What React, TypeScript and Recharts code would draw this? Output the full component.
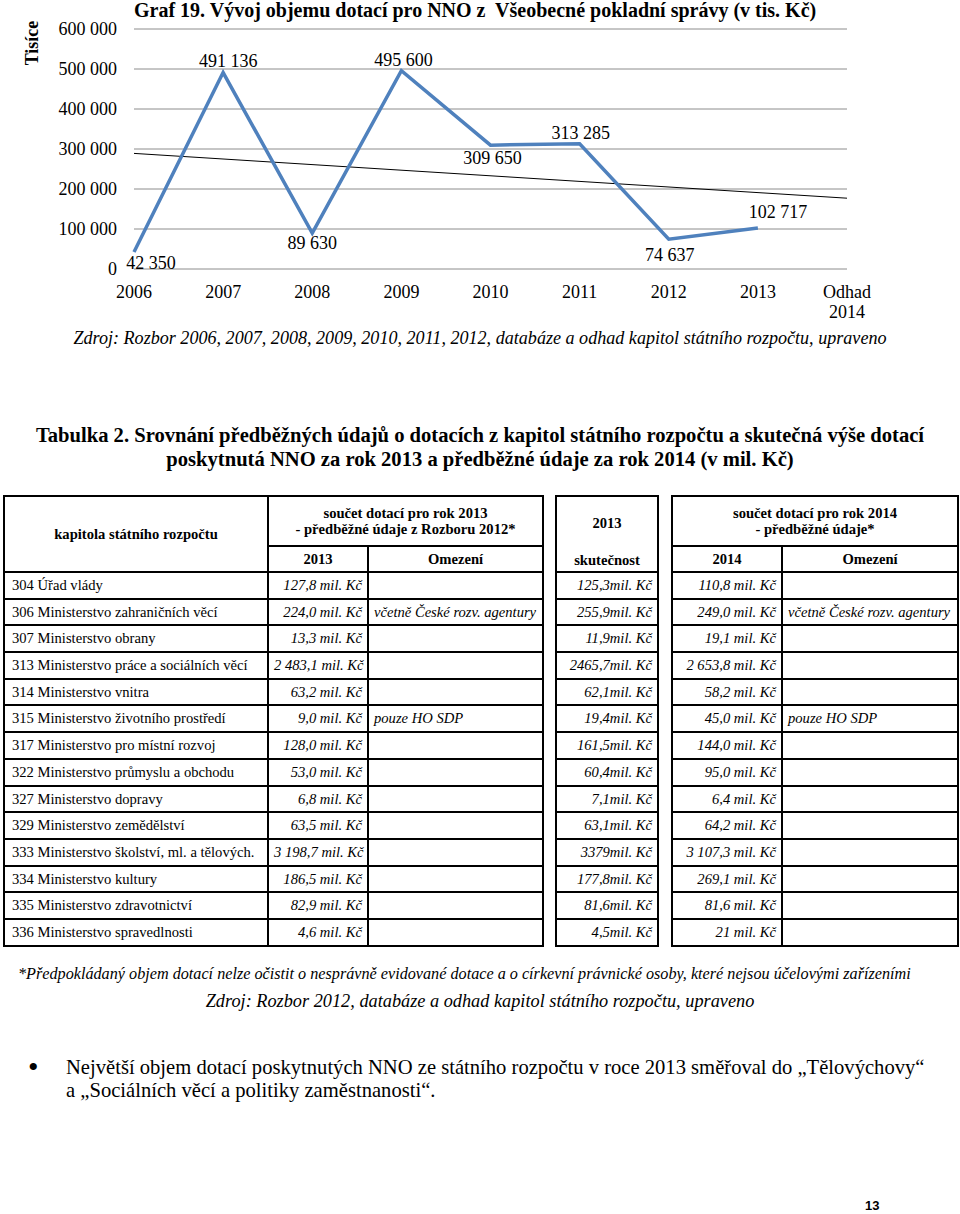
import React from 'react';
import { LineChart, Line, XAxis, YAxis, CartesianGrid, ReferenceLine, LabelList } from 'recharts';

// ---------- chart data ----------
const years = ['2006', '2007', '2008', '2009', '2010', '2011', '2012', '2013', 'Odhad 2014'];
const subsidies: (number | null)[] = [42350, 491136, 89630, 495600, 309650, 313285, 74637, 102717, null];
const yTicks = [0, 100000, 200000, 300000, 400000, 500000, 600000];
// linear trend line (value at 2006 and at "Odhad 2014")
const trendStart = 289000;
const trendEnd = 177000;

// ---------- table data ----------
const chapters = [
  '304 Úřad vlády',
  '306 Ministerstvo zahraničních věcí',
  '307 Ministerstvo obrany',
  '313 Ministerstvo práce a sociálních věcí',
  '314 Ministerstvo vnitra',
  '315 Ministerstvo životního prostředí',
  '317 Ministerstvo pro místní rozvoj',
  '322 Ministerstvo průmyslu a obchodu',
  '327 Ministerstvo dopravy',
  '329 Ministerstvo zemědělství',
  '333 Ministerstvo školství, ml. a tělových.',
  '334 Ministerstvo kultury',
  '335 Ministerstvo zdravotnictví',
  '336 Ministerstvo spravedlnosti',
];
const planned2013 = ['127,8 mil. Kč', '224,0 mil. Kč', '13,3 mil. Kč', '2 483,1 mil. Kč', '63,2 mil. Kč', '9,0 mil. Kč', '128,0 mil. Kč', '53,0 mil. Kč', '6,8 mil. Kč', '63,5 mil. Kč', '3 198,7 mil. Kč', '186,5 mil. Kč', '82,9 mil. Kč', '4,6 mil. Kč'];
const limits2013 = ['', 'včetně České rozv. agentury', '', '', '', 'pouze HO SDP', '', '', '', '', '', '', '', ''];
const actual2013 = ['125,3mil. Kč', '255,9mil. Kč', '11,9mil. Kč', '2465,7mil. Kč', '62,1mil. Kč', '19,4mil. Kč', '161,5mil. Kč', '60,4mil. Kč', '7,1mil. Kč', '63,1mil. Kč', '3379mil. Kč', '177,8mil. Kč', '81,6mil. Kč', '4,5mil. Kč'];
const planned2014 = ['110,8 mil. Kč', '249,0 mil. Kč', '19,1 mil. Kč', '2 653,8 mil. Kč', '58,2 mil. Kč', '45,0 mil. Kč', '144,0 mil. Kč', '95,0 mil. Kč', '6,4 mil. Kč', '64,2 mil. Kč', '3 107,3 mil. Kč', '269,1 mil. Kč', '81,6 mil. Kč', '21 mil. Kč'];
const limits2014 = ['', 'včetně České rozv. agentury', '', '', '', 'pouze HO SDP', '', '', '', '', '', '', '', ''];

// label offsets (style only)
const labelOffsets: [number, number][] = [
  [17, 11], [5, -12], [0, 10], [2, -11], [2, 13], [1, -11], [1, 16], [20, -16],
];

const chartData = years.map((year, i) => ({ year, value: subsidies[i] }));

const SERIF = '"Liberation Serif", "Times New Roman", serif';

const fmt = (n: number) => String(n).replace(/\B(?=(\d{3})+(?!\d))/g, ' ');

const renderLabel = (props: any) => {
  const { x, y, value, index } = props;
  if (value == null || x == null || y == null) return null;
  const [dx, dy] = labelOffsets[index] || [0, 0];
  return (
    <text x={x + dx} y={y + dy} textAnchor="middle" dominantBaseline="central" fontSize={18} fontFamily={SERIF} fill="#000">
      {fmt(value)}
    </text>
  );
};

const XTick = (props: any) => {
  const { x, y, payload } = props;
  const lines = String(payload.value).split(' ');
  return (
    <text x={x} y={y} textAnchor="middle" fontSize={18} fontFamily={SERIF} fill="#000">
      {lines.map((l, i) => (
        <tspan key={i} x={x} dy={i === 0 ? '0.71em' : '1.1em'}>{l}</tspan>
      ))}
    </text>
  );
};

const abs = (left: number, top: number, extra: React.CSSProperties = {}): React.CSSProperties => ({
  position: 'absolute', left, top, lineHeight: 1, whiteSpace: 'nowrap', fontFamily: SERIF, color: '#000', ...extra,
});

const B = '2px solid #000';
const cell: React.CSSProperties = { border: B, padding: '0 5px', fontSize: 14.6, fontFamily: SERIF, overflow: 'hidden', whiteSpace: 'nowrap', lineHeight: 1 };
const headCell: React.CSSProperties = { ...cell, fontWeight: 'bold', textAlign: 'center' };
const numCell: React.CSSProperties = { ...cell, fontStyle: 'italic', textAlign: 'right' };
const noteCell: React.CSSProperties = { ...cell, fontStyle: 'italic', textAlign: 'left' };
const ROW_H = 26.7;

const tableStyle = (left: number, width: number): React.CSSProperties => ({
  position: 'absolute', left, top: 495, width, borderCollapse: 'collapse', tableLayout: 'fixed',
});

export default function App() {
  return (
    <div style={{ position: 'absolute', left: 0, top: 0, width: 960, height: 1214, background: '#fff', overflow: 'hidden' }}>
      <div style={abs(134, 0, { fontSize: 20, fontWeight: 'bold' })}>
        Graf 19. Vývoj objemu dotací pro NNO z&nbsp; Všeobecné pokladní správy (v tis. Kč)
      </div>
      <div style={{ position: 'absolute', left: 0, top: 0 }}>
        <LineChart width={960} height={330} data={chartData} margin={{ top: 29, right: 113, left: 54, bottom: 31 }}>
          <CartesianGrid vertical={false} stroke="#8c8c8c" strokeWidth={1} />
          <XAxis dataKey="year" axisLine={false} tickLine={false} interval={0} tickMargin={10} tick={<XTick />} />
          <YAxis
            width={80}
            domain={[0, 600000]}
            ticks={yTicks}
            axisLine={false}
            tickLine={false}
            tickMargin={11}
            tickFormatter={(v: number) => fmt(v)}
            tick={{ fontSize: 18, fill: '#000', fontFamily: SERIF }}
            label={{
              content: () => (
                <text transform="translate(38,43) rotate(-90)" textAnchor="middle" fontSize={18} fontWeight="bold" fontFamily={SERIF} fill="#000">
                  Tisíce
                </text>
              ),
            }}
          />
          <ReferenceLine
            segment={[{ x: years[0], y: trendStart }, { x: years[years.length - 1], y: trendEnd }]}
            stroke="#000"
            strokeWidth={1}
          />
          <Line type="linear" dataKey="value" stroke="#4F81BD" strokeWidth={3.5} dot={false} isAnimationActive={false}>
            <LabelList dataKey="value" content={renderLabel} />
          </Line>
        </LineChart>
      </div>
      <div style={abs(0, 329, { width: 960, textAlign: 'center', fontSize: 18.1, fontStyle: 'italic' })}>
        Zdroj: Rozbor 2006, 2007, 2008, 2009, 2010, 2011, 2012, databáze a odhad kapitol státního rozpočtu, upraveno
      </div>

      <div style={abs(0, 423, { width: 960, textAlign: 'center', fontSize: 20.6, fontWeight: 'bold', lineHeight: '24px' })}>
        Tabulka 2. Srovnání předběžných údajů o dotacích z kapitol státního rozpočtu a skutečná výše dotací
        <br />
        poskytnutá NNO za rok 2013 a předběžné údaje za rok 2014 (v mil. Kč)
      </div>

      {/* table A */}
      <table style={tableStyle(3, 539)}>
        <colgroup>
          <col style={{ width: 264 }} />
          <col style={{ width: 100 }} />
          <col style={{ width: 175 }} />
        </colgroup>
        <tbody>
          <tr style={{ height: 50 }}>
            <td rowSpan={2} style={headCell}>kapitola státního rozpočtu</td>
            <td colSpan={2} style={{ ...headCell, lineHeight: '16px' }}>
              součet dotací pro rok 2013<br />- předběžné údaje z Rozboru 2012*
            </td>
          </tr>
          <tr style={{ height: 26 }}>
            <td style={headCell}>2013</td>
            <td style={headCell}>Omezení</td>
          </tr>
          {chapters.map((c, i) => (
            <tr key={c} style={{ height: ROW_H }}>
              <td style={{ ...cell, paddingLeft: 7 }}>{c}</td>
              <td style={numCell}>{planned2013[i]}</td>
              <td style={noteCell}>{limits2013[i]}</td>
            </tr>
          ))}
        </tbody>
      </table>

      {/* table B */}
      <table style={tableStyle(555, 102)}>
        <colgroup>
          <col style={{ width: 102 }} />
        </colgroup>
        <tbody>
          <tr style={{ height: 76 }}>
            <td style={{ ...headCell, position: 'relative' }}>
              <div style={{ position: 'absolute', left: 0, right: 0, top: 19 }}>2013</div>
              <div style={{ position: 'absolute', left: 0, right: 0, top: 56 }}>skutečnost</div>
            </td>
          </tr>
          {actual2013.map((v, i) => (
            <tr key={i} style={{ height: ROW_H }}>
              <td style={numCell}>{v}</td>
            </tr>
          ))}
        </tbody>
      </table>

      {/* table C */}
      <table style={tableStyle(671, 286)}>
        <colgroup>
          <col style={{ width: 110 }} />
          <col style={{ width: 176 }} />
        </colgroup>
        <tbody>
          <tr style={{ height: 50 }}>
            <td colSpan={2} style={{ ...headCell, lineHeight: '16px' }}>
              součet dotací pro rok 2014<br />- předběžné údaje*
            </td>
          </tr>
          <tr style={{ height: 26 }}>
            <td style={headCell}>2014</td>
            <td style={headCell}>Omezení</td>
          </tr>
          {planned2014.map((v, i) => (
            <tr key={i} style={{ height: ROW_H }}>
              <td style={numCell}>{v}</td>
              <td style={noteCell}>{limits2014[i]}</td>
            </tr>
          ))}
        </tbody>
      </table>

      <div style={abs(18, 966, { fontSize: 16.2, fontStyle: 'italic' })}>
        *Předpokládaný objem dotací nelze očistit o nesprávně evidované dotace a o církevní právnické osoby, které nejsou účelovými zařízeními
      </div>
      <div style={abs(0, 992, { width: 960, textAlign: 'center', fontSize: 18.3, fontStyle: 'italic' })}>
        Zdroj: Rozbor 2012, databáze a odhad kapitol státního rozpočtu, upraveno
      </div>

      <div style={abs(28, 1052, { fontSize: 30 })}>•</div>
      <div style={abs(66, 1056, { fontSize: 20.6, lineHeight: '23px' })}>
        Největší objem dotací poskytnutých NNO ze státního rozpočtu v roce 2013 směřoval do „Tělovýchovy“
        <br />
        a „Sociálních věcí a politiky zaměstnanosti“.
      </div>

      <div style={abs(865, 1199, { fontSize: 13, fontWeight: 'bold', fontFamily: '"Liberation Sans", Arial, sans-serif' })}>13</div>
    </div>
  );
}
